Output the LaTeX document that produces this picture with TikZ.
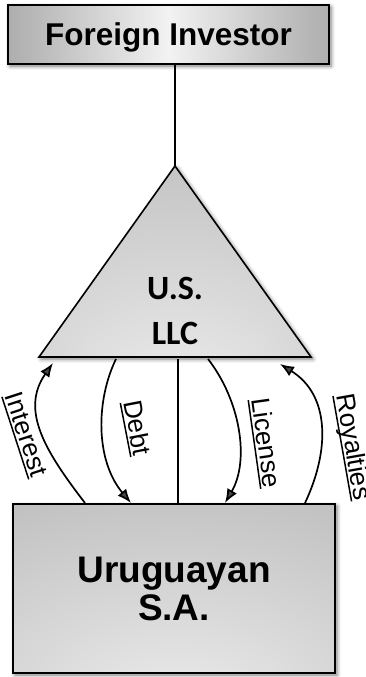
\documentclass[tikz,border=0pt]{standalone}
\usepackage{fontspec}
\setmainfont{Liberation Sans}
\newfontfamily\calibrifont{Carlito}
\usetikzlibrary{arrows.meta,shadows.blur}
\pgfdeclareradialshading{lowglow}{\pgfpoint{0bp}{-38bp}}{color(0bp)=(white!93!black); color(20bp)=(white!86!black); color(55bp)=(white!74!black); color(100bp)=(white!64!black)}
\newcommand\myul[1]{\setbox0\hbox{#1}\rlap{\vrule width\wd0 height -2.4pt depth 3.9pt}\box0}
\begin{document}
\begin{tikzpicture}[x=1pt,y=1pt,
  boxstyle/.style={draw=black, line width=2pt, rectangle, inner sep=0pt,
    blur shadow={shadow xshift=2pt, shadow yshift=-2pt, shadow blur radius=4pt, shadow opacity=55}},
  flow/.style={line width=1.7pt, -{Latex[length=14pt,width=11pt]}},
  lbl/.style={font=\fontsize{26}{28}\selectfont, inner sep=0pt}]
\useasboundingbox (0,0) rectangle (365,-677);

% Foreign investor
\node[boxstyle, minimum width=321pt, minimum height=59pt,
  left color=white!68!black, right color=white!68!black, middle color=white!95!black,
  font=\bfseries\fontsize{31.5}{34}\selectfont, text depth=0pt] (inv) at (168.5,-34.5) {Foreign Investor};

% triangle U.S. LLC
\coordinate (apex) at (175,-166);
\coordinate (bl) at (39,-357);
\coordinate (br) at (311,-357);
\shadedraw[shading=lowglow, line width=1.6pt, line join=miter,
  blur shadow={shadow xshift=2pt, shadow yshift=-2pt, shadow blur radius=4pt, shadow opacity=55}]
  (apex) -- (br) -- (bl) -- cycle;
\draw[line width=1.5pt] (inv.south -| apex) -- (apex);
\node[font=\calibrifont\bfseries\fontsize{34}{45}\selectfont, align=center, inner sep=0pt] (llc) at (175,-310.5) {U.S.\\LLC};

% Uruguayan S.A.
\node[boxstyle, minimum width=322pt, minimum height=169pt, shade, shading=lowglow,
  font=\bfseries\fontsize{37}{38}\selectfont, align=center] (uy) at (174,-588.5) {Uruguayan\\S.A.};

% middle connector
\coordinate (mt) at (178,-359);
\draw[line width=1.5pt] (mt) -- (mt |- uy.north);

% flows
\coordinate (iA) at (85,-503);  \coordinate (iB) at (53,-363);
\coordinate (dA) at (116,-359); \coordinate (dB) at (131,-503);
\coordinate (cA) at (208,-359); \coordinate (cB) at (225,-503);
\coordinate (rA) at (305,-503); \coordinate (rB) at (280,-364);
\draw[flow] (iA) .. controls (45,-451) and (20,-410) .. (iB);
\draw[flow] (dA) .. controls (96,-400) and (95,-460) .. (dB);
\draw[flow] (cA) .. controls (240,-400) and (250,-460) .. (cB);
\draw[flow] (rA) .. controls (330,-450) and (330,-395) .. (rB);

% labels
\node[lbl, rotate=-72] (lI) at (25,-435) {\myul{Interest}};
\node[lbl, rotate=-79] (lD) at (136,-428) {\myul{Debt}};
\node[lbl, rotate=-82] (lL) at (265,-443) {\myul{License}};
\node[lbl, rotate=-80] (lR) at (352,-447) {\myul{Royalties}};
\end{tikzpicture}
\end{document}
